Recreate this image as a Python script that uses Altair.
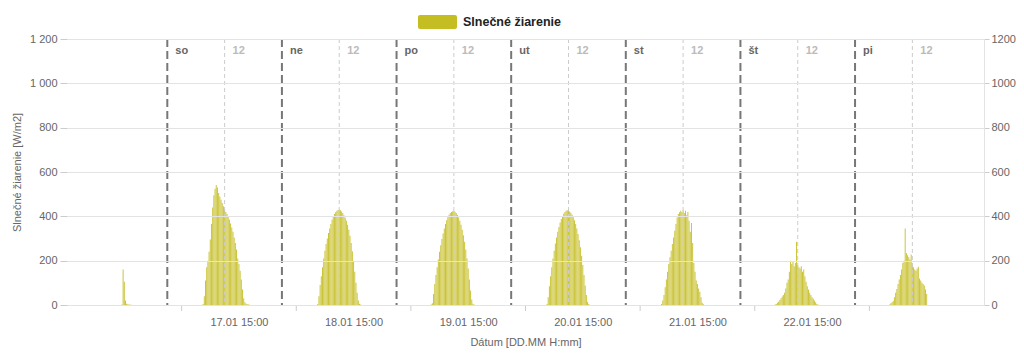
import altair as alt
import pandas as pd

# ---------------- data ----------------
days = ["so", "ne", "po", "ut", "st", "št", "pi"]
midnights = [24, 48, 72, 96, 120, 144, 168]          # hours since 16.01 00:00
noons = [36, 60, 84, 108, 132, 156, 180]
noon_label = "12"
x_tick_hours = [27, 51, 75, 99, 123, 147, 171]        # 03:00 each day
x_label_hours = [39, 63, 87, 111, 135, 159]           # 15:00 each day
y_ticks = [0, 200, 400, 600, 800, 1000, 1200]
legend_label = "Slnečné žiarenie"
y_title = "Slnečné žiarenie [W/m2]"
x_title = "Dátum [DD.MM H:mm]"

step = 0.25  # 15-minute samples

d16_start = 14.5
d16 = [2, 160, 105, 20, 6, 3, 2, 1, 1]

d17_start = 31.5
d17 = [5, 40, 110, 170, 200, 240, 295, 365, 440, 495, 525, 541, 530, 505, 490,
       475, 460, 445, 432, 420, 410, 400, 385, 368, 350, 330, 305, 280, 250,
       210, 185, 155, 115, 70, 30, 12, 6, 3, 2, 1]

d18_start = 55.5
d18 = [5, 40, 90, 130, 170, 210, 245, 275, 300, 325, 345, 365, 385, 398, 410,
       418, 425, 429, 431, 428, 422, 415, 405, 394, 380, 362, 340, 312, 280,
       242, 200, 150, 100, 55, 20, 6, 2]

d19_start = 79.25
d19 = [2, 8, 50, 95, 135, 170, 205, 240, 270, 298, 322, 345, 365, 382, 396,
       407, 415, 420, 423, 424, 421, 415, 406, 395, 380, 362, 340, 315, 285,
       250, 210, 165, 115, 65, 25, 6, 2]

d20_start = 103.5
d20 = [5, 35, 85, 130, 170, 210, 245, 278, 305, 330, 352, 372, 388, 402, 412,
       420, 425, 427, 426, 422, 416, 407, 396, 382, 365, 345, 320, 292, 260,
       222, 180, 135, 88, 45, 15, 4]

d21_start = 127.5
d21 = [5, 20, 45, 80, 115, 150, 185, 215, 245, 275, 305, 335, 365, 395, 410,
       418, 425, 420, 428, 415, 425, 405, 420, 380, 330, 370, 280, 190, 150,
       110, 95, 75, 60, 35, 10, 3]

d22_start = 151.25
d22 = [2, 5, 10, 15, 22, 30, 38, 45, 55, 75, 100, 115, 150, 200, 185, 195, 175,
       190, 285, 180, 170, 165, 175, 150, 160, 130, 105, 85, 70, 55, 45, 35,
       28, 20, 12, 5, 2]

d23_start = 175.25
d23 = [2, 8, 12, 18, 35, 55, 72, 95, 115, 135, 160, 190, 200, 345, 235, 225,
       215, 205, 228, 190, 170, 160, 155, 165, 172, 120, 110, 100, 95, 88, 70, 50]

series = [(d16_start, d16), (d17_start, d17), (d18_start, d18), (d19_start, d19),
          (d20_start, d20), (d21_start, d21), (d22_start, d22), (d23_start, d23)]

rows = []
for start, vals in series:
    for i, v in enumerate(vals):
        rows.append({"h": start + i * step, "v": v})
df = pd.DataFrame(rows)

df_mid = pd.DataFrame({"h": midnights, "label": days})
df_noon = pd.DataFrame({"h": noons, "label": [noon_label] * len(noons)})
df_xt = pd.DataFrame({"h": x_tick_hours})
one = pd.DataFrame({"a": [0]})

# ---------------- chart ----------------
W, H = 917, 266
COLOR = "#c5be23"
FONT = "Liberation Sans"
x_scale = alt.Scale(domain=[3, 195], nice=False, zero=False, padding=0)
y_scale = alt.Scale(domain=[0, 1200], nice=False, zero=True)

x_axis = alt.Axis(
    values=x_label_hours,
    labelExpr="(16 + floor(datum.value / 24)) + '.01 15:00'",
    ticks=False, grid=False, domain=True, domainColor="#cccccc",
    labelColor="#666666", labelFontSize=11, labelPadding=11,
    title=x_title, titleColor="#666666", titleFontSize=11,
    titleFontWeight="normal", titlePadding=9)


def xenc():
    return alt.X("h:Q", scale=x_scale, axis=x_axis, title=x_title)


bars = alt.Chart(df).mark_bar(width=1.0, color=COLOR, opacity=0.9).encode(
    x=xenc(),
    y=alt.Y("v:Q", scale=y_scale, axis=alt.Axis(
        orient="left", values=y_ticks,
        labelExpr="replace(format(datum.value, ','), ',', ' ')",
        grid=True, gridColor="#e3e3e3", domain=False,
        tickColor="#cccccc", tickSize=7, labelPadding=3,
        labelColor="#666666", labelFontSize=11,
        title=y_title, titleColor="#666666", titleFontSize=11,
        titleFontWeight="normal", titlePadding=7, zindex=1)),
)

right_axis = alt.Chart(df).mark_point(opacity=0).encode(
    x=xenc(),
    y=alt.Y("v:Q", scale=y_scale, axis=alt.Axis(
        orient="right", values=y_ticks, format="d", grid=False,
        domain=True, domainColor="#e3e3e3", tickColor="#cccccc", tickSize=5,
        labelPadding=2, labelColor="#666666", labelFontSize=11, title=None)),
)

noon_rules = alt.Chart(df_noon).mark_rule(
    color="#cccccc", strokeWidth=1, strokeDash=[4, 3]).encode(
    x=xenc(), y=alt.value(0), y2=alt.value(H))

mid_rules = alt.Chart(df_mid).mark_rule(
    color="#777777", strokeWidth=2, strokeDash=[8, 4]).encode(
    x=xenc(), y=alt.value(0), y2=alt.value(H))

mid_text = alt.Chart(df_mid).mark_text(
    align="left", baseline="middle", dx=8, fontWeight="bold",
    fontSize=11, color="#666666", font=FONT).encode(
    x=xenc(), y=alt.value(12), text="label:N")

noon_text = alt.Chart(df_noon).mark_text(
    align="left", baseline="middle", dx=8, fontWeight="bold",
    fontSize=11, color="#bbbbbb", font=FONT).encode(
    x=xenc(), y=alt.value(12), text="label:N")

x_ticks = alt.Chart(df_xt).mark_rule(color="#cccccc", strokeWidth=1).encode(
    x=xenc(), y=alt.value(H), y2=alt.value(H + 6))

legend_rect = alt.Chart(one).mark_rect(color=COLOR, cornerRadius=2).encode(
    x=alt.value(351), x2=alt.value(390), y=alt.value(-24), y2=alt.value(-10))

legend_text = alt.Chart(one).mark_text(
    align="left", baseline="middle", fontWeight="bold", fontSize=12.5,
    color="#222222", font=FONT).encode(
    x=alt.value(396), y=alt.value(-17), text=alt.value(legend_label))

chart = alt.layer(
    bars, right_axis, noon_rules, mid_rules, mid_text, noon_text, x_ticks,
    legend_rect, legend_text
).resolve_axis(y="independent").properties(
    width=W, height=H,
    padding={"left": 59, "top": 31, "right": 32, "bottom": 46},
    autosize=alt.AutoSizeParams(type="none"),
).configure(font=FONT).configure_view(stroke=None)

chart.save("out.html", embed_options={"renderer": "svg", "actions": False})
